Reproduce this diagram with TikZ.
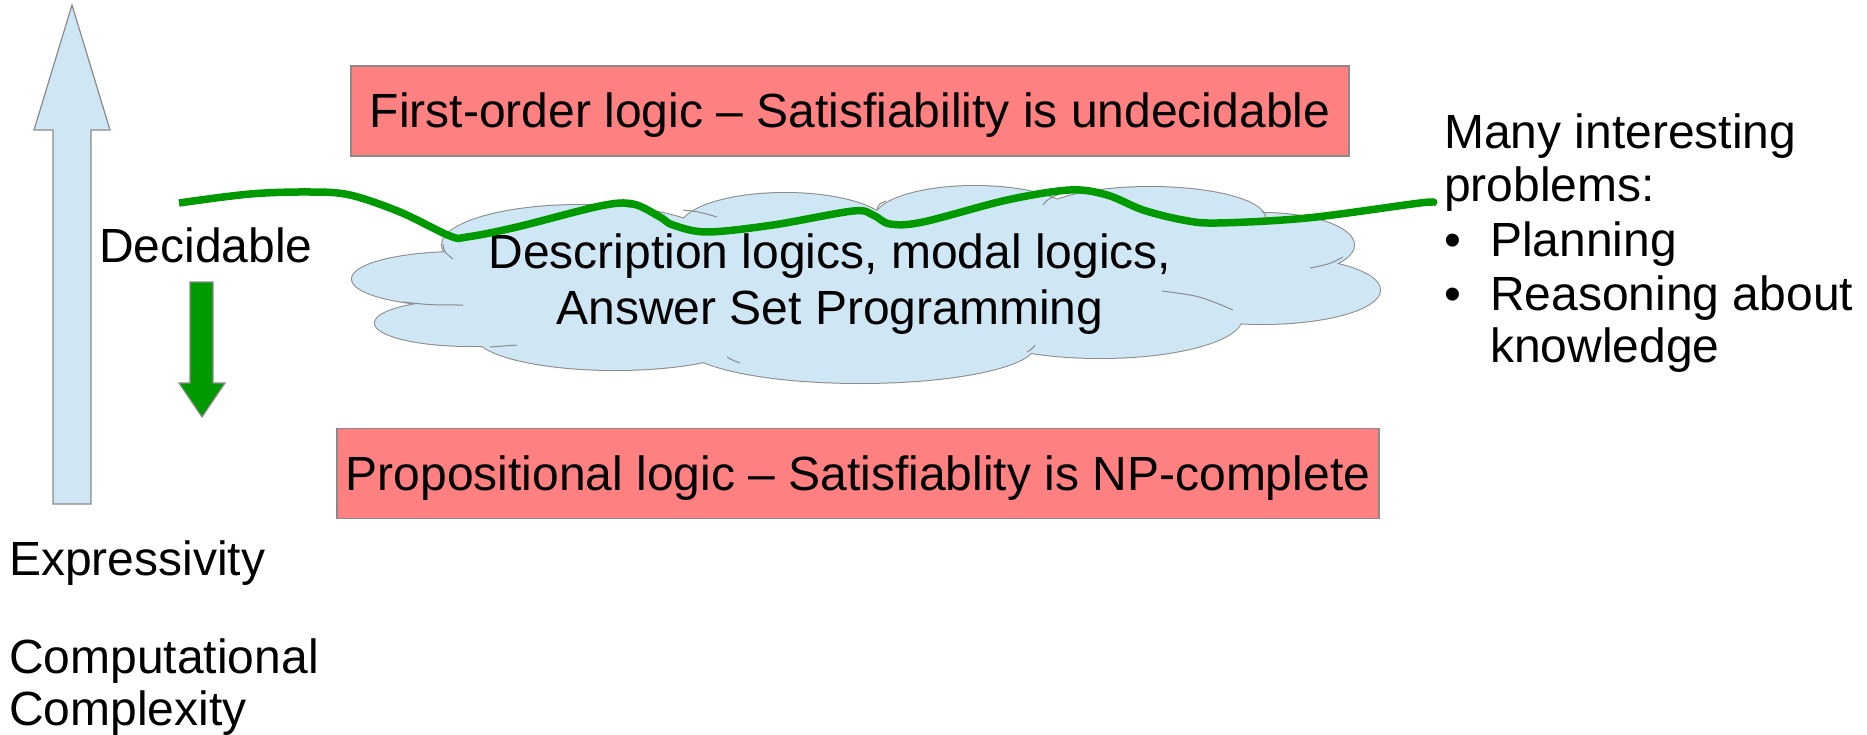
\documentclass[tikz,border=0pt]{standalone}
\usepackage{fontspec}
\setmainfont{Liberation Sans}
\definecolor{cloudblue}{HTML}{CFE7F5}
\definecolor{boxred}{HTML}{FF8080}
\definecolor{lineg}{HTML}{009900}
\definecolor{edgegray}{HTML}{8A8A8A}
\tikzset{
  shapeline/.style={draw=edgegray, line width=1.2pt, line join=miter},
  lbl/.style={font=\fontsize{48}{56}\selectfont, inner sep=0pt, anchor=base west},
  clbl/.style={font=\fontsize{48}{56}\selectfont, inner sep=0pt, anchor=base},
  redbox/.style={fill=boxred, draw=edgegray, line width=1.2pt, inner sep=0pt,
    font=\fontsize{48}{56}\selectfont, text height=34pt, text depth=0pt},
  hint/.style={draw=edgegray, line width=1pt},
  greenline/.style={draw=lineg, line width=7.5pt, line cap=butt, line join=round}
}
\begin{document}
\begin{tikzpicture}[x=1pt,y=-1pt]
\useasboundingbox (0,0) rectangle (1867,735);

% expressivity arrow
\draw[shapeline, fill=cloudblue] (72,5) -- (110,130) -- (91,130) -- (91,504) -- (53,504) -- (53,130) -- (34,130) -- cycle;
% decidable green arrow
\draw[shapeline, fill=lineg] (190,282) -- (213,282) -- (213,383) -- (225,383) -- (202,417) -- (179,383) -- (190,383) -- cycle;

% red boxes
\node[redbox, minimum width=998pt, minimum height=90pt] (fol) at (850,111) {First-order logic – Satisfiability is undecidable};
\node[redbox, minimum width=1042pt, minimum height=90pt] (prop) at (858,473.5) {Propositional logic – Satisfiablity is NP-complete};

% cloud: outline pass then fill pass
\def\lobes{580/245/138/40, 785/228/105/35, 975/218/100/32, 1150/218/115/31,
  1262/245/92/32, 1262/290/118/34, 1100/318/142/40, 860/345/175/38,
  615/335/140/35, 470/323/95/23, 460/279/108/27}
\foreach \cx/\cy/\rx/\ry in \lobes {
  \draw[edgegray, line width=2pt] (\cx,\cy) ellipse [x radius=\rx pt, y radius=\ry pt];
}
\foreach \cx/\cy/\rx/\ry in \lobes {
  \fill[cloudblue] (\cx,\cy) ellipse [x radius=\rx pt, y radius=\ry pt];
}
\fill[cloudblue] (850,285) ellipse [x radius=380pt, y radius=70pt];
% inner hint arcs of the cloud
\draw[hint] (443,244) .. controls (444,252) .. (453,259);
\draw[hint] (403,302) .. controls (430,305) .. (463,305);
\draw[hint] (490,347) .. controls (503,346) .. (517,345);
\draw[hint] (683,210) .. controls (700,212) .. (717,217);
\draw[hint] (877,209) .. controls (879,204) .. (886,201);
\draw[hint] (1057,195) .. controls (1048,199) .. (1043,205);
\draw[hint] (1262,211) .. controls (1265,214) .. (1266,219);
\draw[hint] (1343,257) .. controls (1330,264) .. (1310,268);
\draw[hint] (1162,291) .. controls (1200,296) .. (1233,310);
\draw[hint] (1035,345) .. controls (1032,349) .. (1027,352);
\draw[hint] (727,357) .. controls (732,360) .. (740,363);

\node[clbl] (dl1) at (830,269) {Description logics, modal logics,};
\node[clbl] (dl2) at (830,324) {Answer Set Programming};

% decidability border line
\draw[greenline] plot[smooth, tension=0.55] coordinates {
  (179,203) (250,194) (310,192) (350,195) (400,212) (450,236) (467,237)
  (517,227) (600,206) (633,204) (660,217) (673,225) (707,232) (773,225)
  (853,211) (873,215) (890,224) (923,222) (1007,200) (1070,190) (1107,195)
  (1143,210) (1183,220) (1217,223) (1307,218) (1420,203) (1433,203)};

% labels
\node[lbl] (dec) at (99,262) {Decidable};
\node[lbl] (expr) at (9,575) {Expressivity};
\node[lbl] (comp1) at (9,673) {Computational};
\node[lbl] (comp2) at (9,725) {Complexity};

\node[lbl] (many) at (1444,149) {Many interesting};
\node[lbl] (probs) at (1444,202) {problems:};
\node[lbl] (b1) at (1444,257) {•};
\node[lbl] (plan) at (1490,257) {Planning};
\node[lbl] (b2) at (1444,310) {•};
\node[lbl] (reas) at (1490,310) {Reasoning about};
\node[lbl] (know) at (1490,362) {knowledge};
\end{tikzpicture}
\end{document}
